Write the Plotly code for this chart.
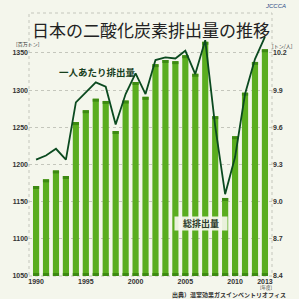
import plotly.graph_objects as go

years = list(range(1990, 2014))
total_mt = [1171, 1180, 1192, 1184.5, 1257, 1273, 1288.5, 1285.5, 1245, 1286,
            1311, 1291, 1335, 1340.6, 1339, 1347, 1322, 1365, 1265, 1155,
            1238, 1296.6, 1338, 1355]
per_capita = [9.339, 9.373, 9.427, 9.339, 9.802, 9.882, 9.963, 9.928, 9.623, 9.869,
              10.035, 9.869, 10.143, 10.164, 10.156, 10.218, 10.030, 10.304, 9.61, 9.06,
              9.36, 9.869, 10.151, 10.33]
x_ticks = [1990, 1995, 2000, 2005, 2010, 2013]
left_ticks = [1050, 1100, 1150, 1200, 1250, 1300, 1350]
right_ticks = [8.4, 8.7, 9.0, 9.3, 9.6, 9.9, 10.2]

BG = "#f4f6ec"
BAR = "#5aad1f"
CAP = "#3d8a12"
LINE = "#0b4a20"
JP = "Noto Sans CJK JP"
LAT = "Liberation Sans"

cap_h = 4
fig = go.Figure()
fig.add_trace(go.Bar(x=years, y=total_mt, marker=dict(color=BAR, line=dict(width=0)),
                     width=0.62, hoverinfo="skip"))
fig.add_trace(go.Bar(x=years, y=[cap_h] * len(years), base=[v - cap_h for v in total_mt],
                     marker=dict(color=CAP, line=dict(width=0)), width=0.62, hoverinfo="skip"))
fig.add_trace(go.Bar(x=years, y=[cap_h] * len(years), base=[left_ticks[0]] * len(years),
                     marker=dict(color=CAP, line=dict(width=0)), width=0.62, hoverinfo="skip"))
fig.add_trace(go.Scatter(x=years, y=per_capita, yaxis="y2", mode="lines",
                         line=dict(color=LINE, width=1.8), hoverinfo="skip"))

tickf = dict(family=LAT, size=7, color="#333333", weight="bold")
fig.update_layout(
    width=299, height=299,
    margin=dict(l=18, r=19, t=13, b=23),
    paper_bgcolor=BG, plot_bgcolor=BG,
    barmode="overlay", showlegend=False,
    xaxis=dict(range=[1989.29, 2013.71], tickvals=x_ticks, tickfont=tickf,
               showgrid=False, zeroline=False, showline=False, ticks=""),
    yaxis=dict(range=[1050, 1403.8], tickvals=left_ticks, tickfont=tickf,
               showgrid=True, gridcolor="#c4c6bc", griddash="dot", gridwidth=1,
               zeroline=False, showline=False, ticks=""),
    yaxis2=dict(range=[8.4, 10.523], tickvals=right_ticks, tickformat=".1f", tickfont=tickf,
                overlaying="y", side="right", showgrid=False, zeroline=False,
                showline=False, ticks=""),
    shapes=[dict(type="rect", xref="paper", yref="paper", x0=0, x1=1, y0=0, y1=1,
                 line=dict(color="#c4c6bc", width=1, dash="dot"), layer="below")],
)

ann = [
    dict(text="日本の二酸化炭素排出量の推移", x=0.5, y=0.939, font=dict(family=JP, size=17, color="#222222")),
    dict(text="一人あたり排出量", x=0.281, y=0.777, font=dict(family=JP, size=9.5, color="#16401c", weight="bold")),
    dict(text="総排出量", x=0.706, y=0.198, font=dict(family=JP, size=9, color="#2b3b2b", weight="bold"),
         bgcolor="rgba(245,246,236,0.92)", width=50, height=11),
    dict(text="[百万トン]", x=-0.061, y=0.882, xanchor="left", font=dict(family=JP, size=5, color="#333333")),
    dict(text="[トン/人]", x=0.992, y=0.878, xanchor="left", font=dict(family=JP, size=5, color="#333333")),
    dict(text="[年度]", x=0.977, y=-0.044, font=dict(family=JP, size=4.5, color="#333333")),
    dict(text="出典）温室効果ガスインベントリオフィス", x=1.065, y=-0.072, xanchor="right",
         font=dict(family=JP, size=6, color="#333333", weight="bold")),
    dict(text="JCCCA", x=1.015, y=1.025, font=dict(family=LAT, size=6, color="#2a4a86", style="italic")),
]
for a in ann:
    a.setdefault("xanchor", "center")
    fig.add_annotation(xref="paper", yref="paper", yanchor="middle", showarrow=False, **a)

fig.write_html("out.html")
